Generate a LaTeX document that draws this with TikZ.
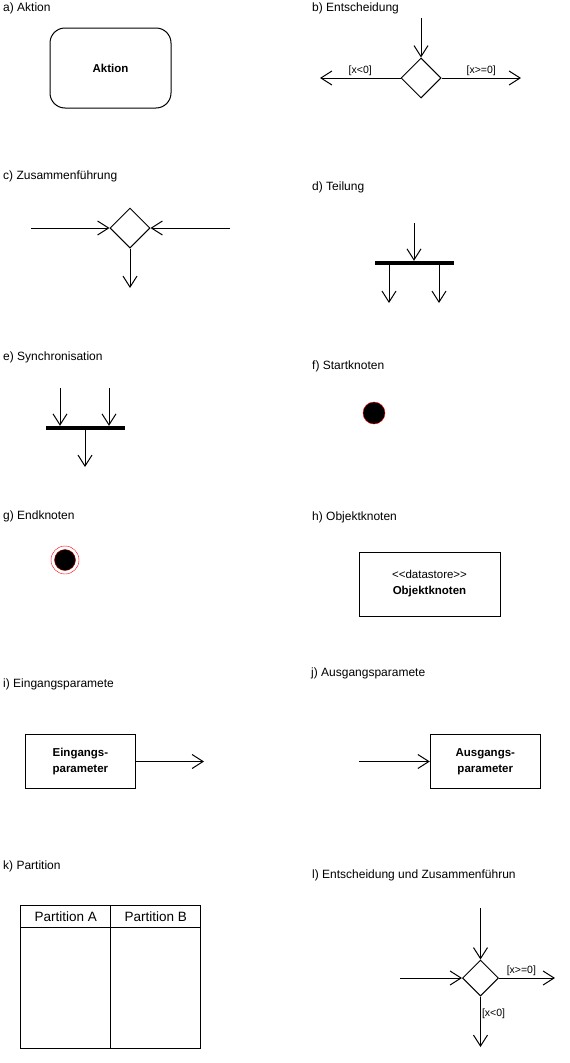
\documentclass[tikz,border=0pt]{standalone}
\usepackage{fontspec}
\setmainfont{Liberation Sans}
\usetikzlibrary{shapes.geometric,arrows.meta,positioning}

\tikzset{
  titel/.style={anchor=west,inner sep=0pt,font=\fontsize{12}{14}\selectfont},
  fluss/.style={line width=1pt,-{Straight Barb[length=11pt,width=14pt,line width=1pt]}},
  wache/.style={inner sep=2pt,font=\fontsize{10.5}{12}\selectfont},
  raute/.style={diamond,draw,line width=1pt,inner sep=0pt,minimum width=40pt,minimum height=40pt},
  balken/.style={fill=black,inner sep=0pt,minimum height=4pt},
  kasten/.style={draw,line width=1pt,inner sep=0pt,align=center,font=\fontsize{11.5}{16}\selectfont\bfseries},
  kopf/.style={draw,line width=1pt,inner sep=0pt,outer sep=0pt,minimum width=90pt,minimum height=21.6pt,font=\fontsize{13.5}{15}\selectfont},
  bahn/.style={draw,line width=1pt,inner sep=0pt,outer sep=0pt,minimum width=90pt,minimum height=121pt}
}

\begin{document}
\begin{tikzpicture}[x=1pt,y=-1pt]
\useasboundingbox (0,0) rectangle (570,1063);

\node[titel] (ta) at (3,8) {a) Aktion};
\node[kasten,rounded corners=15pt,minimum width=121pt,minimum height=80pt] (aktion) at (110.5,68) {Aktion};

\node[titel] (tb) at (312,8) {b) Entscheidung};
\node[raute] (eb) at (421,78) {};
\coordinate (b0) at (421,18);
\coordinate (b1) at (320,78);
\coordinate (b2) at (521,78);
\draw[fluss] (b0) -- (eb.north);
\draw[fluss] (eb.west) -- node[wache,above] (gb1) {[x<0]} (b1);
\draw[fluss] (eb.east) -- node[wache,above] (gb2) {[x>=0]} (b2);

\node[titel] (tc) at (3,176) {c) Zusammenführung};
\node[raute] (ec) at (130,228) {};
\coordinate (c1) at (31,228);
\coordinate (c2) at (230,228);
\coordinate (c3) at (130,288);
\draw[fluss] (c1) -- (ec.west);
\draw[fluss] (c2) -- (ec.east);
\draw[fluss] (ec.south) -- (c3);

\node[titel] (td) at (312,187) {d) Teilung};
\node[balken,minimum width=79pt] (bd) at (414.5,263) {};
\coordinate (d0) at (414,223);
\coordinate (d1) at (389,303);
\coordinate (d2) at (439,303);
\draw[fluss] (d0) -- (d0 |- bd.north);
\draw[fluss] (bd.south -| d1) -- (d1);
\draw[fluss] (bd.south -| d2) -- (d2);

\node[titel] (te) at (3,357) {e) Synchronisation};
\node[balken,minimum width=79pt] (be) at (85.3,428) {};
\coordinate (e1) at (60,388);
\coordinate (e2) at (109,388);
\coordinate (e3) at (85,467);
\draw[fluss] (e1) -- (e1 |- be.north);
\draw[fluss] (e2) -- (e2 |- be.north);
\draw[fluss] (be.south -| e3) -- (e3);

\node[titel] (tf) at (312,366) {f) Startknoten};
\node[circle,fill=black,draw=red,inner sep=0pt,minimum size=22pt] (start) at (374,413) {};

\node[titel] (tg) at (3,516) {g) Endknoten};
\node[circle,draw=red,fill=white,inner sep=0pt,minimum size=28pt,
  path picture={\filldraw[fill=black,draw=red!70!black] (path picture bounding box.center) circle (10.5pt);}] (ende) at (65,560) {};

\node[titel] (th) at (312,517) {h) Objektknoten};
\node[kasten,minimum width=141pt,minimum height=64pt] (objekt) at (429.5,584) {\mdseries\textless\kern0pt\textless\kern0pt datastore\kern0pt\textgreater\kern0pt\textgreater\\Objektknoten};

\node[titel] (ti) at (3,684) {i) Eingangsparamete};
\node[kasten,minimum width=110pt,minimum height=54.5pt] (ein) at (80.4,761.5) {Eingangs-\\parameter};
\coordinate (i1) at (204,761.5);
\draw[fluss] (ein.east) -- (i1);

\node[titel] (tj) at (311,673.5) {j) Ausgangsparamete};
\node[kasten,minimum width=110pt,minimum height=54.5pt] (aus) at (485.3,761.5) {Ausgangs-\\parameter};
\coordinate (j1) at (359,761.5);
\draw[fluss] (j1) -- (aus.west);

\node[titel] (tk) at (3,866) {k) Partition};
\node[kopf] (pa) at (65.7,916.5) {Partition A};
\node[kopf,right=0pt of pa] (pb) {Partition B};
\node[bahn,below=0pt of pa] (ba) {};
\node[bahn,below=0pt of pb] (bb) {};

\node[titel] (tl) at (312,875) {l) Entscheidung und Zusammenführun};
\node[raute,minimum width=36pt,minimum height=36pt] (el) at (480.5,978) {};
\coordinate (l0) at (480.5,908);
\coordinate (l1) at (400,978);
\coordinate (l2) at (555,978);
\coordinate (l3) at (480.5,1047);
\draw[fluss] (l0) -- (el.north);
\draw[fluss] (l1) -- (el.west);
\draw[fluss] (el.east) -- node[wache,above,pos=0.4] (gl1) {[x>=0]} (l2);
\draw[fluss] (el.south) -- node[wache,right,pos=0.35,inner sep=1pt] (gl2) {[x<0]} (l3);
\end{tikzpicture}
\end{document}
